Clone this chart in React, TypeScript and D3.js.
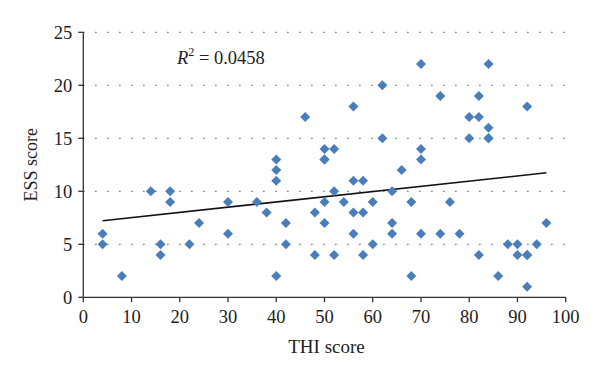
import React from "react";
import * as d3 from "d3";

const thi: number[] = [4,4,8,14,16,16,18,18,22,24,30,30,36,38,40,40,40,40,42,42,46,48,48,50,50,50,50,50,52,52,52,54,56,56,56,56,58,58,58,60,60,62,62,64,64,64,66,68,68,70,70,70,70,74,74,76,78,80,80,82,82,82,84,84,84,84,86,88,90,90,92,92,92,92,94,96];
const ess: number[] = [6,5,2,10,5,4,10,9,5,7,9,6,9,8,13,12,11,2,7,5,17,8,4,14,13,9,7,13,14,10,4,9,18,11,8,6,11,8,4,9,5,20,15,10,7,6,12,9,2,22,14,13,6,19,6,9,6,17,15,19,17,4,22,16,15,15,2,5,5,4,18,4,4,1,5,7];
const xTicks: number[] = [0,10,20,30,40,50,60,70,80,90,100];
const yTicks: number[] = [0,5,10,15,20,25];
const r2Label = "0.0458";
// linear trend line as shown in the chart
const trendSlope = 0.0491;
const trendIntercept = 7.03;

export default function App() {
  const W = 600, H = 380;
  const x = d3.scaleLinear().domain([0, 100]).range([83.3, 565.7]);
  const y = d3.scaleLinear().domain([0, 25]).range([297.3, 32.3]);
  const font = "'Liberation Serif', 'Times New Roman', serif";

  const [x0, x1] = d3.extent(thi) as [number, number];
  const line = d3.line<number>().x(d => x(d)).y(d => y(trendIntercept + trendSlope * d));

  const diamond = (cx: number, cy: number, r = 5) =>
    `M${cx},${cy - r}L${cx + r},${cy}L${cx},${cy + r}L${cx - r},${cy}Z`;

  return (
    <svg width={W} height={H} style={{ position: "absolute", left: 0, top: 0, background: "#fff" }}>
      {yTicks.filter(t => t > 0).map(t => (
        <line key={"g" + t} x1={x(0)} x2={x(100) + 2} y1={y(t)} y2={y(t)}
          stroke="#555" strokeWidth={1.2} strokeDasharray="1.2 10.8" />
      ))}
      <line x1={x(0)} x2={x(0)} y1={y(0)} y2={y(25)} stroke="#333" strokeWidth={1.3} />
      <line x1={x(0)} x2={x(100)} y1={y(0)} y2={y(0)} stroke="#333" strokeWidth={1.3} />
      {yTicks.map(t => (
        <g key={"y" + t}>
          <line x1={x(0) - 5} x2={x(0)} y1={y(t)} y2={y(t)} stroke="#333" strokeWidth={1.3} />
          <text x={x(0) - 11} y={y(t)} dy="0.34em" textAnchor="end" fontFamily={font} fontSize={18.5} fill="#222">{t}</text>
        </g>
      ))}
      {xTicks.map(t => (
        <g key={"x" + t}>
          <line x1={x(t)} x2={x(t)} y1={y(0)} y2={y(0) + 5} stroke="#333" strokeWidth={1.3} />
          <text x={x(t)} y={y(0) + 26} textAnchor="middle" fontFamily={font} fontSize={18.5} fill="#222">{t}</text>
        </g>
      ))}
      <text x={x(50) + 2} y={353} textAnchor="middle" fontFamily={font} fontSize={19} fill="#222">THI score</text>
      <text transform={`translate(37,${y(12.5)}) rotate(-90)`} textAnchor="middle" fontFamily={font} fontSize={18} fill="#222">ESS score</text>
      <path d={line([x0, x1]) || ""} stroke="#111" strokeWidth={1.6} fill="none" />
      {thi.map((v, i) => (
        <path key={i} d={diamond(x(v), y(ess[i]))} fill="#4A7EBB" />
      ))}
      <text x={177} y={64} fontFamily={font} fontSize={18.5} fill="#222">
        <tspan fontStyle="italic">R</tspan>
        <tspan dy={-8} fontSize={12}>2</tspan>
        <tspan dy={8}>{" = " + r2Label}</tspan>
      </text>
    </svg>
  );
}
